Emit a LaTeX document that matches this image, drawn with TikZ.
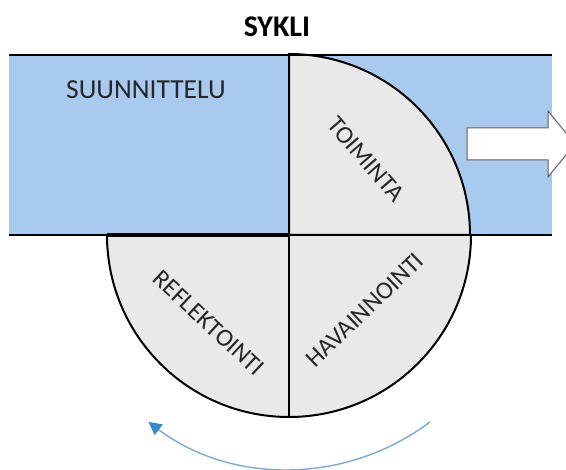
\documentclass[tikz,border=0pt]{standalone}
\usepackage{fontspec}
\setmainfont{Carlito}
\usetikzlibrary{arrows.meta}
\definecolor{bandblue}{RGB}{168,202,238}
\definecolor{sectorgray}{RGB}{233,233,233}
\definecolor{cycleline}{RGB}{120,170,222}
\definecolor{cyclehead}{RGB}{52,140,208}
\definecolor{labeltext}{RGB}{38,38,38}
\definecolor{arrowedge}{RGB}{95,95,95}
\begin{document}
\begin{tikzpicture}[x=1pt,y=1pt,
  edge/.style={black,line width=2.2pt},
  sector/.style={fill=sectorgray,draw=black,line width=2pt},
  phase/.style={text=labeltext,font=\fontsize{25}{30}\selectfont,inner sep=0pt},
  title/.style={text=black,font=\bfseries\fontsize{30}{36}\selectfont,inner sep=0pt},
  blockarrow/.style={fill=white,draw=arrowedge,line width=1pt,line join=miter},
  cyclearrow/.style={draw=cycleline,line width=1.4pt,
    -{Triangle[length=13pt,width=13pt,color=cyclehead,fill=cyclehead]}}]
  \useasboundingbox (0,0) rectangle (566,470);
  \coordinate (C) at (289,235);

  % planning band
  \fill[bandblue] (9,235) rectangle (552,415);

  % lower half of the cycle
  \filldraw[sector] (107,235) arc[start angle=180,end angle=360,radius=182] -- cycle;
  % action quarter
  \filldraw[sector] (C) -- (289,416) arc[start angle=90,end angle=0,radius=181] -- cycle;

  % band edges
  \draw[edge] (9,415) -- (552,415);
  \draw[edge] (9,235) -- (552,235);
  \draw[edge] (289,415) -- (289,53);
  \draw[black,line width=4pt] (107,235) -- (C);

  % outgoing block arrow
  \filldraw[blockarrow] (467,342) -- (548,342) -- (548,359) -- (575,326)
    -- (548,293) -- (548,310) -- (467,310) -- cycle;

  % labels
  \node[title] (sykli) at (277,443) {SYKLI};
  \node[phase,font=\fontsize{27.5}{32}\selectfont] (suunnittelu) at (146,380) {SUUNNITTELU};
  \node[phase,rotate=-49] (toiminta) at (366,311) {TOIMINTA};
  \node[phase,rotate=-43] (reflektointi) at (209,147) {REFLEKTOINTI};
  \node[phase,rotate=44] (havainnointi) at (365,160) {HAVAINNOINTI};

  % direction of the cycle
  \coordinate (cycStart) at (430,48.1);
  \draw[cyclearrow] (cycStart) arc[start angle=-53,end angle=-127,radius=234];
\end{tikzpicture}
\end{document}
